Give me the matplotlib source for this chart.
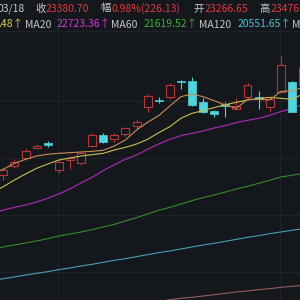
import numpy as np
import matplotlib
matplotlib.use("Agg")
import matplotlib.pyplot as plt
from matplotlib.patches import Rectangle

plt.rcParams["font.family"] = ["Noto Sans CJK SC", "DejaVu Sans"]

# daily candles (visible window, last one cut by the right edge)
opens = [21712, 21866, 21998, 22152, 22246, 21795, 21954, 21916, 22196, 22372,
         22301, 22383, 22526, 22840, 22950, 23005, 23263, 23263, 22922, 22768,
         22889, 22796, 22994, 23005, 22840, 23087, 23252, 23197]
highs = [21850, 21971, 22152, 22224, 22279, 21960, 22031, 22097, 22400, 22400,
         22400, 22510, 22631, 23049, 23005, 23225, 23280, 23324, 22988, 22785,
         22922, 22977, 23225, 23104, 23005, 23676, 23263, 23560]
lows = [21630, 21822, 21960, 22141, 22169, 21740, 21806, 21877, 22180, 22246,
        22262, 22356, 22455, 22746, 22895, 22966, 23126, 22851, 22730, 22675,
        22675, 22785, 22966, 22796, 22757, 23060, 22746, 23180]
closes = [21795, 21932, 22114, 22196, 22213, 21921, 21998, 22070, 22372, 22262,
          22372, 22493, 22592, 23021, 22939, 23192, 23252, 22862, 22757, 22724,
          22856, 22851, 23192, 22966, 22966, 23527, 22757, 23472]

# moving averages, one value per day starting one day before the first candle
ma5 = [21740, 21806, 21905, 21971, 22026, 22054, 22070, 22081, 22092, 22103,
       22120, 22191, 22290, 22455, 22582, 22692, 22851, 23005, 23049, 23005,
       22939, 22868, 22813, 22961, 22961, 22950, 23093, 23099, 23159]
ma10 = [21427, 21520, 21630, 21729, 21823, 21894, 21960, 21993, 22026, 22048,
        22070, 22125, 22169, 22224, 22301, 22411, 22510, 22648, 22730, 22774,
        22824, 22873, 22912, 22950, 22972, 22994, 22978, 22961, 23049]
ma20 = [21080, 21135, 21179, 21218, 21267, 21328, 21399, 21482, 21581, 21674,
        21784, 21883, 21971, 22043, 22136, 22224, 22301, 22362, 22400, 22439,
        22488, 22527, 22576, 22615, 22648, 22697, 22758, 22807, 22884]
ma60 = [20486, 20525, 20558, 20591, 20624, 20662, 20706, 20739, 20772, 20811,
        20855, 20899, 20954, 21009, 21069, 21130, 21179, 21234, 21289, 21339,
        21383, 21432, 21482, 21526, 21575, 21625, 21680, 21707, 21740]
ma120 = [19969, 20002, 20030, 20063, 20090, 20118, 20151, 20178, 20211, 20239,
         20272, 20305, 20332, 20365, 20398, 20431, 20459, 20492, 20525, 20558,
         20585, 20618, 20651, 20684, 20712, 20745, 20772, 20800, 20827]
ma250 = [np.nan] * 14 + [19595, 19623, 19656, 19678, 19694, 19716, 19738,
                         19760, 19782, 19799, 19821, 19837, 19859, 19876, 19892]

header_top = [("03/18", "#c8c8c8"), ("收", "#c8c8c8"), ("23380.70", "#e0393e"),
              ("幅", "#c8c8c8"), ("0.98%(226.13)", "#e0393e"),
              ("开", "#c8c8c8"), ("23266.65", "#e0393e"),
              ("高", "#c8c8c8"), ("23476.", "#e0393e")]
header_top_x = [-2, 35, 46, 100, 112, 193, 205, 259, 271]
header_ma = [(".48↑", "#d8cc58"), ("MA20", "#c8c8c8"), ("22723.36↑", "#d03cd0"),
             ("MA60", "#c8c8c8"), ("21619.52↑", "#3fae3a"),
             ("MA120", "#c8c8c8"), ("20551.65↑", "#4ec3d2"), ("MA250", "#c8c8c8")]
header_ma_x = [-2, 25, 57, 111, 144, 199, 238, 292]

bg = "#14171c"
up_color = "#b8353a"
down_color = "#50d4dc"

fig = plt.figure(figsize=(3, 3), dpi=100, facecolor=bg)
ax = fig.add_axes([0, 0, 1, 1], facecolor=bg)
ax.set_xlim(-0.3, 26.73)
ax.set_ylim(19650, 24600)
ax.axis("off")

# faint grid
for gx in [4.93, 24.93]:
    ax.axvline(gx, color="#1f232a", lw=0.7, zorder=0)
for gy in [24088, 22933, 21993, 21052, 20112]:
    ax.axhline(gy, color="#1f232a", lw=0.7, zorder=0)

days = np.arange(len(opens))
ma_x = np.arange(-1, len(opens))
ax.plot(ma_x, ma120, color="#4a9fb8", lw=0.8, zorder=1)
ax.plot(ma_x, ma250, color="#9a5a62", lw=0.8, zorder=1)
ax.plot(ma_x, ma60, color="#3a8a30", lw=0.8, zorder=1)
ax.plot(ma_x, ma20, color="#a02ca8", lw=0.9, zorder=1)

width = 0.72
for d, o, h, l, c in zip(days, opens, highs, lows, closes):
    if c >= o:
        ax.vlines(d, l, o, color=up_color, lw=0.8, zorder=2)
        ax.vlines(d, c, h, color=up_color, lw=0.8, zorder=2)
        ax.add_patch(Rectangle((d - width / 2, o), width, max(c - o, 8),
                               facecolor=bg, edgecolor=up_color, lw=0.8, zorder=3))
    else:
        ax.vlines(d, l, h, color=down_color, lw=0.8, zorder=2)
        ax.add_patch(Rectangle((d - width / 2, c), width, max(o - c, 12),
                               facecolor=down_color, edgecolor=down_color,
                               lw=0.5, zorder=3))

ax.plot(ma_x, ma10, color="#c9bf52", lw=0.8, zorder=4)
ax.plot(ma_x, ma5, color="#c98e55", lw=0.8, zorder=4)

for (txt, col), x in zip(header_top, header_top_x):
    fig.text(x / 300, 1 - 8.5 / 300, txt, color=col, fontsize=7.5,
             ha="left", va="center")
for (txt, col), x in zip(header_ma, header_ma_x):
    fig.text(x / 300, 1 - 24.5 / 300, txt, color=col, fontsize=7.5,
             ha="left", va="center")

fig.savefig("out.png", dpi=100, facecolor=bg)
